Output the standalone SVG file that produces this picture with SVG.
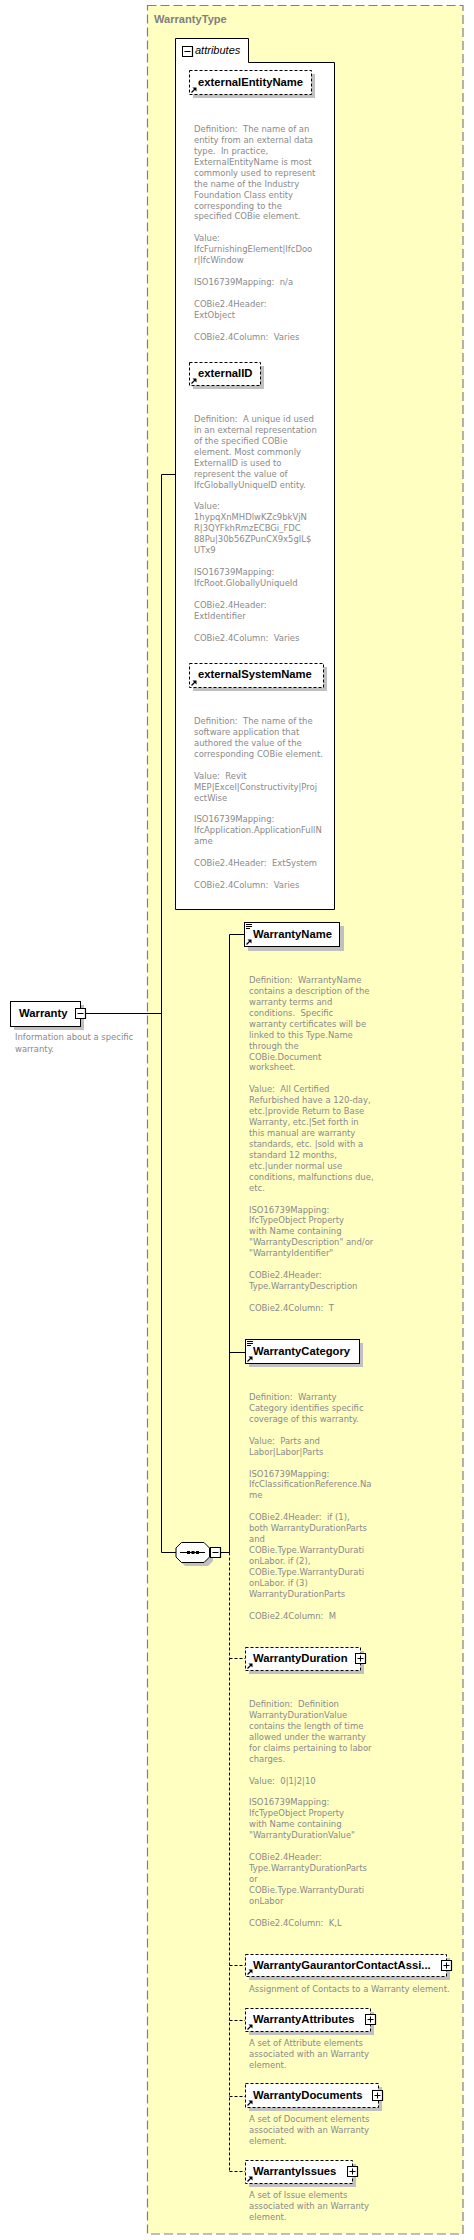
<svg xmlns="http://www.w3.org/2000/svg" width="474" height="2240" viewBox="0 0 474 2240">
<style>
.bg{fill:#fff}
.type{fill:#ffffc2;stroke:#808080;stroke-width:1.2;stroke-dasharray:9,4}
.title{font-family:"Liberation Sans",Arial,sans-serif;font-weight:bold;font-size:11.1px;fill:#808080}
.name{font-family:"Liberation Sans",Arial,sans-serif;font-weight:bold;font-size:11.25px;fill:#000}
.ital{font-family:"Liberation Sans",Arial,sans-serif;font-style:italic;font-size:11px;fill:#000}
.desc{font-family:"DejaVu Sans Condensed","DejaVu Sans",sans-serif;font-stretch:condensed;font-size:9.4px;fill:#8a8a8a;white-space:pre}
.box{fill:#fff;stroke:#000;stroke-width:1}
.dbox{fill:#fff;stroke:#000;stroke-width:1;stroke-dasharray:3,2}
.shadow{fill:#c0c0c0}
.ln{stroke:#000;stroke-width:1;fill:none}
.dln{stroke:#000;stroke-width:1;fill:none;stroke-dasharray:3,2}
</style>
<defs>
<g id="arrow"><path d="M0.5,5.5 L4,2" stroke="#000" stroke-width="1.2"/><path d="M1.5,0.5 L5.5,0.5 L5.5,4.5 Z" fill="#000"/></g>
<g id="lines"><path d="M0,0.5 H6 M0,2.5 H6 M0,4.5 H4" stroke="#000" stroke-width="1"/></g>
<g id="plus"><rect x="0.5" y="0.5" width="10" height="10" fill="#fff" stroke="#000"/><path d="M10.5,1 V10.5 H1" stroke="#000" stroke-width="1.2" fill="none"/><path d="M2.5,5.5 H8.5 M5.5,2.5 V8.5" stroke="#000"/></g>
<g id="minus"><rect x="0.5" y="0.5" width="10" height="10" fill="#fff" stroke="#000"/><path d="M10.5,1 V10.5 H1" stroke="#000" stroke-width="1.2" fill="none"/><path d="M2.5,5.5 H8.5" stroke="#000"/></g>
</defs>
<rect class="bg" x="0" y="0" width="474" height="2240"/>

<g id="WarrantyType">
<rect class="type" x="147.5" y="5.5" width="315.5" height="2228.5"/>
<text class="title" x="154" y="23">WarrantyType</text>
</g>

<g id="connectors">
<path class="ln" d="M85,1013.5 H161.5 M161.5,474.5 V1552.5 M161.5,474.5 H175 M161.5,1552.5 H176 M221,1552.5 H229.5 M229.5,934.5 V1552.5 M229.5,934.5 H244 M229.5,1352.5 H245"/>
<path class="dln" d="M229.5,1552.5 V2171.5 M229.5,1658.5 H245 M229.5,1965.5 H245 M229.5,2020.5 H245 M229.5,2096.5 H245 M229.5,2171.5 H245"/>
</g>

<g id="attributes">
<path class="box" d="M175.5,38.5 H248.5 V62.5 H334.5 V909.5 H175.5 Z"/>
<use href="#minus" x="182" y="46"/>
<text class="ital" x="195" y="54">attributes</text>
</g>

<g id="externalEntityName">
<rect class="shadow" x="193" y="74" width="122" height="24"/>
<rect class="dbox" x="189.5" y="70.5" width="122" height="24"/>
<use href="#arrow" x="191" y="87"/>
<text class="name" x="198" y="86">externalEntityName</text>
<text class="desc" x="194" y="132"><tspan x="194">Definition:  The name of an</tspan><tspan x="194" dy="10.93">entity from an external data</tspan><tspan x="194" dy="10.93">type.  In practice,</tspan><tspan x="194" dy="10.93">ExternalEntityName is most</tspan><tspan x="194" dy="10.93">commonly used to represent</tspan><tspan x="194" dy="10.93">the name of the Industry</tspan><tspan x="194" dy="10.93">Foundation Class entity</tspan><tspan x="194" dy="10.93">corresponding to the</tspan><tspan x="194" dy="10.93">specified COBie element.</tspan><tspan x="194" dy="21.86">Value:</tspan><tspan x="194" dy="10.93">IfcFurnishingElement|IfcDoo</tspan><tspan x="194" dy="10.93">r|IfcWindow</tspan><tspan x="194" dy="21.86">ISO16739Mapping:  n/a</tspan><tspan x="194" dy="21.86">COBie2.4Header:</tspan><tspan x="194" dy="10.93">ExtObject</tspan><tspan x="194" dy="21.86">COBie2.4Column:  Varies</tspan></text>
</g>

<g id="externalID">
<rect class="shadow" x="193" y="366" width="71" height="23"/>
<rect class="dbox" x="189.5" y="362.5" width="71" height="23"/>
<use href="#arrow" x="191" y="378"/>
<text class="name" x="198" y="377">externalID</text>
<text class="desc" x="194" y="422"><tspan x="194">Definition:  A unique id used</tspan><tspan x="194" dy="10.93">in an external representation</tspan><tspan x="194" dy="10.93">of the specified COBie</tspan><tspan x="194" dy="10.93">element. Most commonly</tspan><tspan x="194" dy="10.93">ExternalID is used to</tspan><tspan x="194" dy="10.93">represent the value of</tspan><tspan x="194" dy="10.93">IfcGloballyUniqueID entity.</tspan><tspan x="194" dy="21.86">Value:</tspan><tspan x="194" dy="10.93">1hypqXnMHDlwKZc9bkVjN</tspan><tspan x="194" dy="10.93">R|3QYFkhRmzECBGi_FDC</tspan><tspan x="194" dy="10.93">88Pu|30b56ZPunCX9x5gIL$</tspan><tspan x="194" dy="10.93">UTx9</tspan><tspan x="194" dy="21.86">ISO16739Mapping:</tspan><tspan x="194" dy="10.93">IfcRoot.GloballyUniqueId</tspan><tspan x="194" dy="21.86">COBie2.4Header:</tspan><tspan x="194" dy="10.93">ExtIdentifier</tspan><tspan x="194" dy="21.86">COBie2.4Column:  Varies</tspan></text>
</g>

<g id="externalSystemName">
<rect class="shadow" x="193" y="667" width="134" height="24"/>
<rect class="dbox" x="189.5" y="663.5" width="134" height="24"/>
<use href="#arrow" x="191" y="680"/>
<text class="name" x="198" y="678">externalSystemName</text>
<text class="desc" x="194" y="724"><tspan x="194">Definition:  The name of the</tspan><tspan x="194" dy="10.93">software application that</tspan><tspan x="194" dy="10.93">authored the value of the</tspan><tspan x="194" dy="10.93">corresponding COBie element.</tspan><tspan x="194" dy="21.86">Value:  Revit</tspan><tspan x="194" dy="10.93">MEP|Excel|Constructivity|Proj</tspan><tspan x="194" dy="10.93">ectWise</tspan><tspan x="194" dy="21.86">ISO16739Mapping:</tspan><tspan x="194" dy="10.93">IfcApplication.ApplicationFullN</tspan><tspan x="194" dy="10.93">ame</tspan><tspan x="194" dy="21.86">COBie2.4Header:  ExtSystem</tspan><tspan x="194" dy="21.86">COBie2.4Column:  Varies</tspan></text>
</g>

<g id="Warranty">
<rect class="shadow" x="14" y="1005" width="70" height="25"/>
<rect class="box" x="10.5" y="1001.5" width="70" height="25"/>
<use href="#minus" x="75" y="1008"/>
<text class="name" x="19" y="1017" style="font-size:11.3px">Warranty</text>
<text class="desc" x="15" y="1040"><tspan x="15">Information about a specific</tspan><tspan x="15" dy="11.5">warranty.</tspan></text>
</g>

<g id="sequence">
<path class="shadow" d="M185,1546 H208 L213,1551 V1561 L208,1566 H185 L180,1561 V1551 Z"/>
<path class="box" d="M181.5,1542.5 H204 L209.5,1548 V1557 L204,1562.5 H181.5 L176,1557 V1548 Z"/>
<path d="M180,1552.5 H205" stroke="#000" stroke-width="1"/>
<rect x="187" y="1551" width="3" height="3" fill="#000"/>
<rect x="191.5" y="1551" width="3" height="3" fill="#000"/>
<rect x="196" y="1551" width="3" height="3" fill="#000"/>
<use href="#minus" x="210" y="1547"/>
</g>

<g id="WarrantyName">
<rect class="shadow" x="248" y="926" width="96" height="25"/>
<rect class="box" x="244.5" y="922.5" width="95" height="24"/>
<use href="#lines" x="246" y="924"/>
<use href="#arrow" x="246" y="939"/>
<text class="name" x="253" y="938">WarrantyName</text>
<text class="desc" x="249" y="983"><tspan x="249">Definition:  WarrantyName</tspan><tspan x="249" dy="10.93">contains a description of the</tspan><tspan x="249" dy="10.93">warranty terms and</tspan><tspan x="249" dy="10.93">conditions.  Specific</tspan><tspan x="249" dy="10.93">warranty certificates will be</tspan><tspan x="249" dy="10.93">linked to this Type.Name</tspan><tspan x="249" dy="10.93">through the</tspan><tspan x="249" dy="10.93">COBie.Document</tspan><tspan x="249" dy="10.93">worksheet.</tspan><tspan x="249" dy="21.86">Value:  All Certified</tspan><tspan x="249" dy="10.93">Refurbished have a 120-day,</tspan><tspan x="249" dy="10.93">etc.|provide Return to Base</tspan><tspan x="249" dy="10.93">Warranty, etc.|Set forth in</tspan><tspan x="249" dy="10.93">this manual are warranty</tspan><tspan x="249" dy="10.93">standards, etc. |sold with a</tspan><tspan x="249" dy="10.93">standard 12 months,</tspan><tspan x="249" dy="10.93">etc.|under normal use</tspan><tspan x="249" dy="10.93">conditions, malfunctions due,</tspan><tspan x="249" dy="10.93">etc.</tspan><tspan x="249" dy="21.86">ISO16739Mapping:</tspan><tspan x="249" dy="10.93">IfcTypeObject Property</tspan><tspan x="249" dy="10.93">with Name containing</tspan><tspan x="249" dy="10.93">"WarrantyDescription" and/or</tspan><tspan x="249" dy="10.93">"WarrantyIdentifier"</tspan><tspan x="249" dy="21.86">COBie2.4Header:</tspan><tspan x="249" dy="10.93">Type.WarrantyDescription</tspan><tspan x="249" dy="21.86">COBie2.4Column:  T</tspan></text>
</g>

<g id="WarrantyCategory">
<rect class="shadow" x="249" y="1343" width="114" height="24"/>
<rect class="box" x="245.5" y="1339.5" width="114" height="24"/>
<use href="#lines" x="247" y="1341"/>
<use href="#arrow" x="247" y="1356"/>
<text class="name" x="253" y="1355">WarrantyCategory</text>
<text class="desc" x="249" y="1400"><tspan x="249">Definition:  Warranty</tspan><tspan x="249" dy="10.93">Category identifies specific</tspan><tspan x="249" dy="10.93">coverage of this warranty.</tspan><tspan x="249" dy="21.86">Value:  Parts and</tspan><tspan x="249" dy="10.93">Labor|Labor|Parts</tspan><tspan x="249" dy="21.86">ISO16739Mapping:</tspan><tspan x="249" dy="10.93">IfcClassificationReference.Na</tspan><tspan x="249" dy="10.93">me</tspan><tspan x="249" dy="21.86">COBie2.4Header:  if (1),</tspan><tspan x="249" dy="10.93">both WarrantyDurationParts</tspan><tspan x="249" dy="10.93">and</tspan><tspan x="249" dy="10.93">COBie.Type.WarrantyDurati</tspan><tspan x="249" dy="10.93">onLabor. if (2),</tspan><tspan x="249" dy="10.93">COBie.Type.WarrantyDurati</tspan><tspan x="249" dy="10.93">onLabor. if (3)</tspan><tspan x="249" dy="10.93">WarrantyDurationParts</tspan><tspan x="249" dy="21.86">COBie2.4Column:  M</tspan></text>
</g>

<g id="WarrantyDuration">
<rect class="shadow" x="249" y="1651" width="115" height="23"/>
<rect class="dbox" x="245.5" y="1647.5" width="115" height="23"/>
<use href="#arrow" x="247" y="1663"/>
<text class="name" x="253" y="1662">WarrantyDuration</text>
<use href="#plus" x="355" y="1653"/>
<text class="desc" x="249" y="1707"><tspan x="249">Definition:  Definition</tspan><tspan x="249" dy="10.93">WarrantyDurationValue</tspan><tspan x="249" dy="10.93">contains the length of time</tspan><tspan x="249" dy="10.93">allowed under the warranty</tspan><tspan x="249" dy="10.93">for claims pertaining to labor</tspan><tspan x="249" dy="10.93">charges.</tspan><tspan x="249" dy="21.86">Value:  0|1|2|10</tspan><tspan x="249" dy="21.86">ISO16739Mapping:</tspan><tspan x="249" dy="10.93">IfcTypeObject Property</tspan><tspan x="249" dy="10.93">with Name containing</tspan><tspan x="249" dy="10.93">"WarrantyDurationValue"</tspan><tspan x="249" dy="21.86">COBie2.4Header:</tspan><tspan x="249" dy="10.93">Type.WarrantyDurationParts</tspan><tspan x="249" dy="10.93">or</tspan><tspan x="249" dy="10.93">COBie.Type.WarrantyDurati</tspan><tspan x="249" dy="10.93">onLabor</tspan><tspan x="249" dy="21.86">COBie2.4Column:  K,L</tspan></text>
</g>

<g id="WarrantyGaurantorContactAssignments">
<rect class="shadow" x="249" y="1958" width="201" height="22"/>
<rect class="dbox" x="245.5" y="1954.5" width="201" height="22"/>
<use href="#arrow" x="247" y="1969"/>
<text class="name" x="253" y="1969">WarrantyGaurantorContactAssi...</text>
<use href="#plus" x="441" y="1960"/>
<text class="desc" x="249" y="1992">Assignment of Contacts to a Warranty element.</text>
</g>

<g id="WarrantyAttributes">
<rect class="shadow" x="249" y="2012" width="125" height="23"/>
<rect class="dbox" x="245.5" y="2008.5" width="125" height="23"/>
<use href="#arrow" x="247" y="2024"/>
<text class="name" x="253" y="2023">WarrantyAttributes</text>
<use href="#plus" x="365" y="2014"/>
<text class="desc" x="249" y="2046"><tspan x="249">A set of Attribute elements</tspan><tspan x="249" dy="10.93">associated with an Warranty</tspan><tspan x="249" dy="10.93">element.</tspan></text>
</g>

<g id="WarrantyDocuments">
<rect class="shadow" x="249" y="2087" width="133" height="24"/>
<rect class="dbox" x="245.5" y="2083.5" width="133" height="24"/>
<use href="#arrow" x="247" y="2100"/>
<text class="name" x="253" y="2099">WarrantyDocuments</text>
<use href="#plus" x="372" y="2090"/>
<text class="desc" x="249" y="2122"><tspan x="249">A set of Document elements</tspan><tspan x="249" dy="10.93">associated with an Warranty</tspan><tspan x="249" dy="10.93">element.</tspan></text>
</g>

<g id="WarrantyIssues">
<rect class="shadow" x="249" y="2164" width="107" height="23"/>
<rect class="dbox" x="245.5" y="2160.5" width="107" height="23"/>
<use href="#arrow" x="247" y="2176"/>
<text class="name" x="253" y="2175">WarrantyIssues</text>
<use href="#plus" x="347" y="2166"/>
<text class="desc" x="249" y="2198"><tspan x="249">A set of Issue elements</tspan><tspan x="249" dy="10.93">associated with an Warranty</tspan><tspan x="249" dy="10.93">element.</tspan></text>
</g>
</svg>
